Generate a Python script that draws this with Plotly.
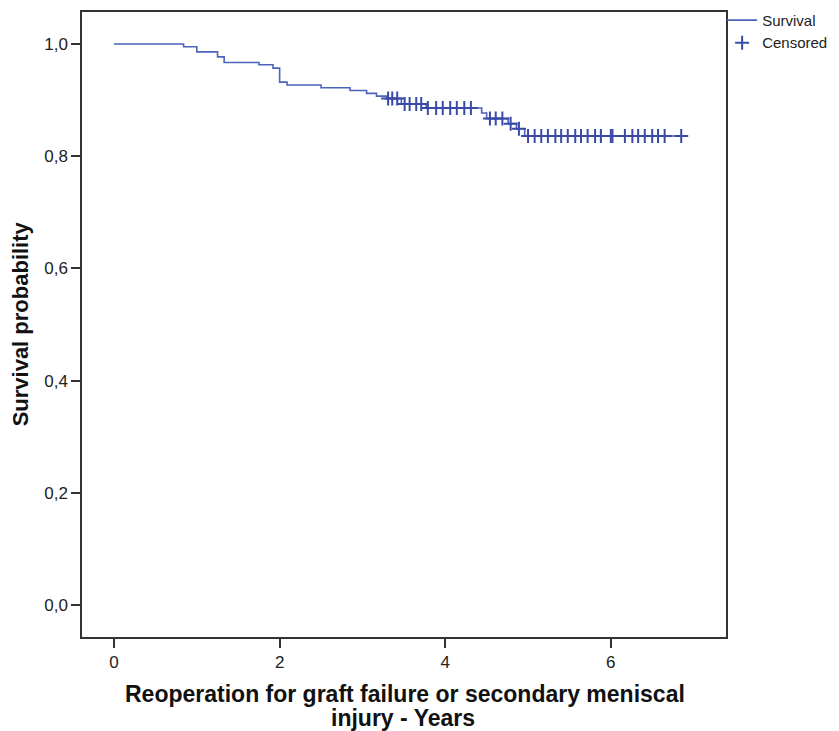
import numpy as np
import plotly.graph_objects as go

# Kaplan-Meier step data (time in years, survival probability after the step)
event_times = [0.0, 0.84, 1.00, 1.25, 1.33, 1.75, 1.92, 2.00, 2.09, 2.50, 2.85, 3.05, 3.17,
               3.30, 3.47, 3.77, 4.44, 4.50, 4.76, 4.86, 4.96]
surv_values = [1.000, 0.995, 0.986, 0.977, 0.967, 0.963, 0.957, 0.932, 0.927, 0.922, 0.917,
               0.912, 0.907, 0.903, 0.893, 0.886, 0.877, 0.867, 0.858, 0.849, 0.836]
end_time = 6.85

# Censored observation times
censor_times = [3.31, 3.36, 3.42, 3.51, 3.57, 3.65, 3.71, 3.79, 3.89, 3.97, 4.06, 4.14,
                4.23, 4.31, 4.54, 4.61, 4.69, 4.79, 4.89, 5.00, 5.08, 5.16, 5.24, 5.33,
                5.40, 5.48, 5.57, 5.64, 5.72, 5.81, 5.88, 6.00, 6.02, 6.17, 6.26, 6.33,
                6.41, 6.50, 6.57, 6.65, 6.85]

y_ticks = [0.0, 0.2, 0.4, 0.6, 0.8, 1.0]
x_ticks = [0, 2, 4, 6]

x_title_lines = ["Reoperation for graft failure or secondary meniscal", "injury - Years"]
y_title = "Survival probability"

# survival value at censor times (from the step function)
et = np.array(event_times)
sv = np.array(surv_values)
censor_surv = [sv[np.searchsorted(et, t, side="right") - 1] for t in censor_times]

line_x = list(event_times) + [end_time]
line_y = list(surv_values) + [surv_values[-1]]

color = "#4c62bc"
font_family = "Liberation Sans, Arial, sans-serif"

fig = go.Figure()
fig.add_trace(go.Scatter(
    x=line_x, y=line_y, mode="lines", line=dict(shape="hv", color=color, width=1.6),
    name="Survival"))
fig.add_trace(go.Scatter(
    x=censor_times, y=censor_surv, mode="markers",
    marker=dict(symbol="cross-thin", size=10, line=dict(color="#3a4aa8", width=2)),
    name="Censored"))

axis_common = dict(showgrid=False, zeroline=False, showline=True, mirror=True,
                   linecolor="#333", linewidth=1.5, ticks="outside", ticklen=9,
                   tickwidth=1.5, tickcolor="#333",
                   tickfont=dict(size=17, color="#222"))

# page body has an 8px default margin, so the figure is sized to fit inside it
fig.update_layout(
    width=831, height=723,
    margin=dict(l=74, r=113, t=4, b=94, autoexpand=False),
    paper_bgcolor="white", plot_bgcolor="white",
    separators=",.",
    font=dict(family=font_family, size=15, color="#222"),
    legend=dict(x=0.994, y=1.013, xanchor="left", yanchor="top",
                font=dict(size=15, color="#222"), itemwidth=30,
                tracegroupgap=0, bgcolor="rgba(0,0,0,0)"),
    xaxis=dict(range=[-0.387, 7.391], tickvals=x_ticks, ticktext=[str(v) for v in x_ticks],
               **axis_common),
    yaxis=dict(range=[-0.057, 1.057], tickvals=y_ticks, tickformat=".1f", **axis_common),
    annotations=[
        dict(text="<b>%s</b>" % x_title_lines[0], xref="paper", yref="paper",
             x=0.5016, y=-0.0912, xanchor="center", yanchor="middle", showarrow=False,
             font=dict(size=23, color="#111", family=font_family)),
        dict(text="<b>%s</b>" % x_title_lines[1], xref="paper", yref="paper",
             x=0.4985, y=-0.1296, xanchor="center", yanchor="middle", showarrow=False,
             font=dict(size=23, color="#111", family=font_family)),
        dict(text="<b>%s</b>" % y_title, xref="paper", yref="paper",
             x=-0.0955, y=0.501, xanchor="center", yanchor="middle", showarrow=False,
             textangle=-90, font=dict(size=22, color="#111", family=font_family)),
    ],
)

fig.write_html("out.html")
